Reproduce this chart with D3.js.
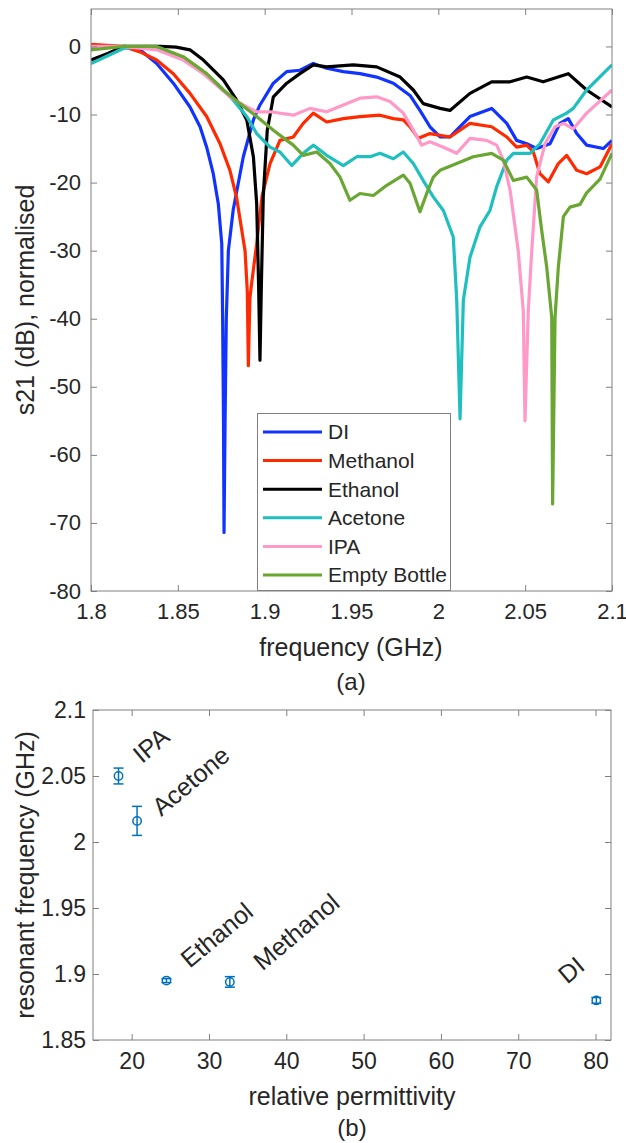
<!DOCTYPE html>
<html>
<head>
<meta charset="UTF-8">
<title>s21 resonance and permittivity</title>
<script src="https://d3js.org/d3.v7.min.js"></script>
<style>
  body { margin: 0; background: #fff; }
  svg { display: block; font-family: "Liberation Sans", Arial, Helvetica, sans-serif; }
</style>
</head>
<body>
<svg id="fig" width="626" height="1143"></svg>
<script>

/* DATA : panel (a), [frequency GHz, s21 dB] */
var names  = ["DI", "Methanol", "Ethanol", "Acetone", "IPA", "Empty Bottle"];
var colors = ["#1133ff", "#ff2a00", "#000000", "#1fbfbf", "#ff99c8", "#6aa632"];

var sDI = [[1.8,-0.3],[1.81,-0.1],[1.82,0],[1.8282,-0.5],[1.8378,-2.5],[1.8474,-5.4],[1.857,-8.9],
  [1.8628,-11.8],[1.8666,-14.8],[1.8704,-18.7],[1.8733,-23.1],[1.8753,-29],[1.8758,-40],[1.8763,-55],
  [1.8766,-71.4],[1.8772,-55],[1.8779,-40],[1.8791,-30],[1.8819,-24],[1.8877,-16.2],[1.8935,-10.8],
  [1.8973,-8.6],[1.905,-5.4],[1.9127,-3.7],[1.9203,-3.5],[1.928,-2.5],[1.9357,-3.2],[1.9453,-3.7],
  [1.9549,-4],[1.9645,-4.5],[1.9741,-5.4],[1.9837,-7.2],[1.9894,-9.4],[1.9952,-11.8],[2.001,-13.3],
  [2.0067,-13.3],[2.0182,-10.3],[2.0307,-9.1],[2.0394,-11.3],[2.0451,-13.8],[2.0509,-14.3],
  [2.0566,-15],[2.0643,-14.3],[2.07,-11.3],[2.0748,-10.6],[2.0797,-12.8],[2.0854,-14.5],[2.095,-15],[2.1,-13.8]];

var sMethanol = [[1.8,0.3],[1.8186,0],[1.8282,-0.8],[1.8378,-2],[1.8474,-4],[1.857,-6.9],[1.8666,-10.3],
  [1.8743,-14.3],[1.88,-18.2],[1.8839,-22.3],[1.8887,-30],[1.89,-36],[1.8906,-46.9],[1.8915,-37],
  [1.8925,-34.8],[1.8954,-29],[1.8985,-22],[1.9031,-17.2],[1.9088,-13.8],[1.9165,-13.3],[1.9222,-11.3],
  [1.928,-9.8],[1.9357,-11.1],[1.9453,-10.6],[1.9549,-10.3],[1.9664,-10.1],[1.9741,-10.6],[1.9798,-10.8],
  [1.9837,-11.8],[1.9885,-13.5],[1.9952,-12.8],[2.0067,-13.3],[2.0182,-11.3],[2.0307,-11.8],[2.0394,-13.3],
  [2.0451,-14.8],[2.0509,-14.5],[2.0547,-15.5],[2.0585,-18.7],[2.0633,-19.9],[2.0691,-17.2],[2.0739,-16],
  [2.0797,-18.2],[2.0854,-18.7],[2.0931,-17.7],[2.1,-14.3]];

var sEthanol = [[1.8,-2],[1.81,-1],[1.8186,0],[1.83,0],[1.84,0],[1.849,-0.1],[1.857,-0.5],[1.8647,-2],
  [1.8762,-4.9],[1.8839,-7.9],[1.8897,-10.8],[1.8935,-16.2],[1.8954,-23.1],[1.8965,-35],[1.8973,-46.1],
  [1.8981,-35],[1.8992,-22],[1.9015,-12.3],[1.905,-7.4],[1.9127,-5.4],[1.9203,-4],[1.928,-2.7],
  [1.9357,-3],[1.951,-2.7],[1.9645,-3],[1.978,-4.5],[1.9856,-6.4],[1.9913,-8.4],[2.001,-9.1],
  [2.0067,-9.4],[2.0182,-6.9],[2.0307,-5.2],[2.0413,-5.2],[2.0509,-4.5],[2.0604,-5.2],[2.0748,-4],
  [2.0854,-6.4],[2.1,-8.9]];

var sAcetone = [[1.8,-2.5],[1.8186,-0.3],[1.8321,0],[1.8474,-1],[1.8609,-3],[1.8724,-5.4],[1.8819,-7.9],
  [1.8897,-10.3],[1.8954,-12.8],[1.9031,-14.8],[1.9088,-15.5],[1.9156,-17.5],[1.9222,-15.7],[1.928,-14.5],
  [1.9357,-16],[1.9453,-17.5],[1.953,-16.2],[1.9607,-16.2],[1.9664,-15.7],[1.9741,-16.5],[1.9798,-15.5],
  [1.9856,-17.2],[1.9913,-19.7],[1.9971,-22.1],[2.0029,-24.1],[2.0086,-28],[2.0106,-37.3],[2.0125,-54.7],
  [2.0144,-37.3],[2.0182,-31],[2.024,-26.5],[2.0297,-24.1],[2.0336,-20.6],[2.0394,-16.7],[2.0432,-15.7],
  [2.0528,-15.7],[2.0585,-14.3],[2.0662,-10.8],[2.0739,-9.8],[2.0777,-9.1],[2.0854,-6.4],[2.1,-2.7]];

var sIPA = [[1.8,0],[1.818,0],[1.8378,-0.5],[1.8531,-2],[1.8647,-4],[1.8724,-5.7],[1.88,-7.4],[1.8877,-8.6],
  [1.8954,-9.6],[1.9031,-9.6],[1.9165,-10.1],[1.9261,-9.1],[1.9357,-9.6],[1.9453,-8.6],[1.9549,-7.6],
  [1.9645,-7.4],[1.9722,-8.1],[1.9798,-9.8],[1.9856,-12.3],[1.9904,-14.5],[1.9952,-14],[2.0029,-14.8],
  [2.0106,-15.7],[2.0182,-13.5],[2.0278,-13.8],[2.0336,-14.5],[2.0374,-16.7],[2.0413,-21.1],[2.046,-30],
  [2.0489,-38.8],[2.0499,-55],[2.0518,-38.8],[2.0538,-30],[2.0566,-19.2],[2.0614,-14.3],[2.0672,-11.8],
  [2.072,-11.3],[2.0777,-12.1],[2.0854,-9.8],[2.1,-6.4]];

var sEmpty = [[1.8,-0.5],[1.8186,0],[1.8378,0],[1.8531,-1.5],[1.8666,-4],[1.8762,-6.4],[1.8858,-8.4],
  [1.8954,-10.3],[1.905,-12.3],[1.9127,-13.8],[1.9165,-14.5],[1.9222,-16],[1.93,-15.5],[1.9376,-17.2],
  [1.9434,-19.2],[1.9491,-22.6],[1.9549,-21.6],[1.9626,-21.9],[1.9703,-20.4],[1.9798,-18.9],[1.9837,-20.1],
  [1.9894,-24.3],[1.9933,-21.6],[1.9971,-19.2],[2.001,-18.2],[2.0106,-17.2],[2.0201,-16.2],[2.0307,-15.7],
  [2.0374,-16.7],[2.0432,-19.7],[2.0509,-19.2],[2.0566,-21.1],[2.0595,-27],[2.0624,-32.4],[2.0653,-39.8],
  [2.0658,-67.2],[2.0672,-39.8],[2.0691,-32.4],[2.072,-25],[2.0758,-23.6],[2.0816,-23.2],[2.0854,-21.5],
  [2.0931,-19.5],[2.1,-15.7]];

var series = [sDI, sMethanol, sEthanol, sAcetone, sIPA, sEmpty];

var freqTicks = [1.8, 1.85, 1.9, 1.95, 2, 2.05, 2.1];
var dbTicks   = [0, -10, -20, -30, -40, -50, -60, -70, -80];

/* DATA : panel (b) */
var liquids      = ["IPA", "Acetone", "Ethanol", "Methanol", "DI"];
var permittivity = [18.3, 20.7, 24.5, 32.7, 80.1];
var resFreq      = [2.050, 2.016, 1.895, 1.894, 1.880];
var resErr       = [0.006, 0.011, 0.0015, 0.004, 0.0022];
var labelPerm    = [20.6, 23.1, 26.8, 36.2, 75.6];
var labelFreq    = [2.064, 2.024, 1.909, 1.907, 1.897];
var permTicks    = [20, 30, 40, 50, 60, 70, 80];
var resTicks     = [1.85, 1.9, 1.95, 2, 2.05, 2.1];

/* HELPERS */
var axisCol = "#808080", textCol = "#262626";
function fmt(d) { return String(+d.toFixed(3)); }

function frame(g, x, y, xt, yt, xpad, ypad, fs) {
  var r = x.range(), t = y.range();
  var styl = function(a) {
    a.select(".domain").remove();
    a.attr("font-family", null).attr("font-size", fs).attr("color", axisCol);
    a.selectAll("text").attr("fill", textCol);
  };
  g.append("g").attr("transform", "translate(0," + t[0] + ")")
    .call(d3.axisBottom(x).tickValues(xt).tickFormat(fmt).tickSize(-6).tickPadding(xpad)).call(styl);
  g.append("g").attr("transform", "translate(0," + t[1] + ")")
    .call(d3.axisTop(x).tickValues(xt).tickFormat("").tickSize(-6)).call(styl);
  g.append("g").attr("transform", "translate(" + r[0] + ",0)")
    .call(d3.axisLeft(y).tickValues(yt).tickFormat(fmt).tickSize(-6).tickPadding(ypad)).call(styl);
  g.append("g").attr("transform", "translate(" + r[1] + ",0)")
    .call(d3.axisRight(y).tickValues(yt).tickFormat("").tickSize(-6)).call(styl);
  g.append("rect")
    .attr("x", r[0]).attr("y", t[1])
    .attr("width", r[1] - r[0]).attr("height", t[0] - t[1])
    .attr("fill", "none").attr("stroke", axisCol).attr("stroke-width", 1);
}

function label(g, txt, x, y, rot, size) {
  g.append("text")
    .attr("transform", "translate(" + x + "," + y + ")" + (rot ? " rotate(" + rot + ")" : ""))
    .attr("text-anchor", "middle").attr("dy", "0.35em")
    .attr("font-size", size).attr("fill", textCol)
    .text(txt);
}

var svg = d3.select("#fig");

/* PANEL (a) */
var xa = d3.scaleLinear().domain([1.8, 2.1]).range([91, 612]);
var ya = d3.scaleLinear().domain([-80, 5.5]).range([591, 9]);

svg.append("clipPath").attr("id", "clipa").append("rect")
  .attr("x", 91).attr("y", 9).attr("width", 521).attr("height", 582);

var line = d3.line().x(function(d) { return xa(d[0]); }).y(function(d) { return ya(d[1]); });

var pa = svg.append("g");
pa.append("g").attr("clip-path", "url(#clipa)")
  .selectAll("path").data(series).enter().append("path")
    .attr("d", line)
    .attr("fill", "none")
    .attr("stroke", function(d, i) { return colors[i]; })
    .attr("stroke-width", 3.2)
    .attr("stroke-linejoin", "round");

frame(pa, xa, ya, freqTicks, dbTicks, 12, 10, 22);

label(svg, "s21 (dB), normalised", 25, 300, -90, 25);
label(svg, "frequency (GHz)", 351, 647, 0, 25);
label(svg, "(a)", 351, 682, 0, 24);

// legend
var leg = svg.append("g");
leg.append("rect").attr("x", 257.5).attr("y", 413.5).attr("width", 193).attr("height", 177)
  .attr("fill", "#fff").attr("stroke", axisCol);
var row = leg.selectAll("g.row").data(names).enter().append("g")
  .attr("transform", function(d, i) { return "translate(0," + (432 + i * 28.6) + ")"; });
row.append("line").attr("x1", 263).attr("x2", 322)
  .attr("stroke", function(d, i) { return colors[i]; }).attr("stroke-width", 3);
row.append("text").attr("x", 328).attr("dy", "0.35em")
  .attr("font-size", 21).attr("fill", textCol).text(function(d) { return d; });

/* PANEL (b) */
var xb = d3.scaleLinear().domain([15, 82]).range([93, 611]);
var yb = d3.scaleLinear().domain([1.85, 2.1]).range([1040, 710]);

var pb = svg.append("g");
frame(pb, xb, yb, permTicks, resTicks, 13, 7, 23);

var blue = "#0072bd";
var pts = pb.selectAll("g.pt").data(liquids).enter().append("g")
  .attr("stroke", blue).attr("stroke-width", 1.5).attr("fill", "none");
pts.append("line")
  .attr("x1", function(d, i) { return xb(permittivity[i]); })
  .attr("x2", function(d, i) { return xb(permittivity[i]); })
  .attr("y1", function(d, i) { return yb(resFreq[i] - resErr[i]); })
  .attr("y2", function(d, i) { return yb(resFreq[i] + resErr[i]); });
[-1, 1].forEach(function(s) {
  pts.append("line")
    .attr("x1", function(d, i) { return xb(permittivity[i]) - 5; })
    .attr("x2", function(d, i) { return xb(permittivity[i]) + 5; })
    .attr("y1", function(d, i) { return yb(resFreq[i] + s * resErr[i]); })
    .attr("y2", function(d, i) { return yb(resFreq[i] + s * resErr[i]); });
});
pts.append("circle")
  .attr("cx", function(d, i) { return xb(permittivity[i]); })
  .attr("cy", function(d, i) { return yb(resFreq[i]); })
  .attr("r", 4.2);

pb.selectAll("text.ann").data(liquids).enter().append("text")
  .attr("class", "ann")
  .attr("transform", function(d, i) {
    return "translate(" + xb(labelPerm[i]) + "," + yb(labelFreq[i]) + ") rotate(-40)";
  })
  .attr("dy", "0.35em").attr("font-size", 25).attr("fill", textCol)
  .text(function(d) { return d; });

label(svg, "resonant frequency (GHz)", 25, 875, -90, 25);
label(svg, "relative permittivity", 352, 1096, 0, 25);
label(svg, "(b)", 352, 1128, 0, 24);

</script>
</body>
</html>
